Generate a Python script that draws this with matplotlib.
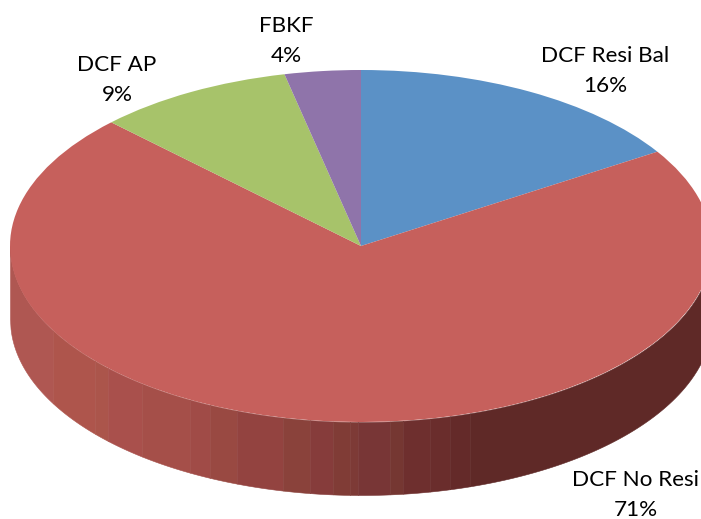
import numpy as np
import matplotlib
matplotlib.use("Agg")
import matplotlib.pyplot as plt

# Data
categories = ["DCF Resi Bal", "DCF No Resi", "DCF AP", "FBKF"]
values = [16.0, 71.4, 9.1, 3.5]
percent_labels = ["16%", "71%", "9%", "4%"]
colors = ["#5B91C6", "#C6605C", "#A7C36A", "#8F74AA"]

# Side wall shading (red slice): colour bands, left to right
wall_colors = ["#AF5752", "#AE554C", "#AB554B", "#A9504C", "#A54F49", "#A04B47",
               "#994942", "#934340", "#8A423B", "#863C3B", "#803C36", "#7D3A36",
               "#783636", "#753732", "#6E2F2E", "#6A2D2C", "#642A29", "#5F2927"]
wall_edges_px = [10, 53, 95, 108, 142, 190, 210, 237, 283, 310, 333, 350, 358, 390,
                 403, 430, 450, 470, 712]

W, H = 701, 519
CX, CY, RX, RY, DEPTH = 361, 246, 351, 176, 73

fig = plt.figure(figsize=(W / 100, H / 100), dpi=100)
ax = fig.add_axes([0, 0, 1, 1])

# Top face
ax.pie(values, colors=colors, startangle=90, counterclock=False,
       wedgeprops=dict(linewidth=0), radius=1, center=(0, 0), frame=False)
for w in ax.patches:
    w.set_zorder(3)

# Side wall
d = DEPTH / RY
for c, a, b in zip(wall_colors, wall_edges_px[:-1], wall_edges_px[1:]):
    x = np.linspace((a - CX) / RX, (b - CX) / RX, 80)
    x = np.clip(x, -1, 1)
    edge = -np.sqrt(1 - x ** 2)
    ax.fill_between(x, edge, edge - d, color=c, linewidth=0.4, zorder=2)

ax.set_aspect("auto")
ax.set_xlim(-CX / RX, (W - CX) / RX)
ax.set_ylim(-(H - CY) / RY, CY / RY)
ax.axis("off")

# Labels
label_px = [(605, 71), (636, 495), (117, 80), (286, 41)]
for name, pct, (px, py) in zip(categories, percent_labels, label_px):
    fig.text(px / W, 1 - py / H, f"{name}\n{pct}", ha="center", va="center",
             family="Lato", fontsize=16.2, color="black", linespacing=1.68)

fig.savefig("out.png", dpi=100)
